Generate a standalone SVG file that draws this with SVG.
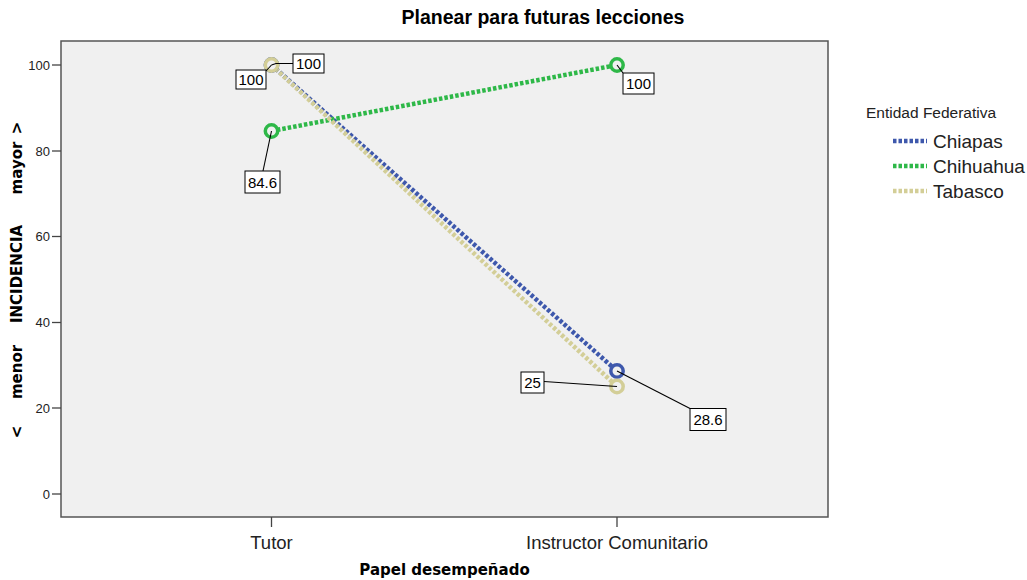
<svg xmlns="http://www.w3.org/2000/svg" width="1027" height="580" viewBox="0 0 1027 580">
<style>
.tick{stroke:#444;stroke-width:1.3}
.ytl{font-family:"Liberation Sans",Arial,sans-serif;font-size:13px;fill:#222;text-anchor:end}
.xtl{font-family:"Liberation Sans",Arial,sans-serif;font-size:18.5px;fill:#222;text-anchor:middle}
.axt{font-family:"DejaVu Sans",Verdana,sans-serif;font-weight:bold;font-size:15px;fill:#000;text-anchor:middle}
.title{font-family:"Liberation Sans",Arial,sans-serif;font-weight:bold;font-size:19.5px;fill:#000;text-anchor:middle}
.leg{font-family:"Liberation Sans",Arial,sans-serif;font-size:19px;fill:#222}
.legh{font-family:"Liberation Sans",Arial,sans-serif;font-size:15.5px;fill:#222}
.ser{fill:none;stroke-width:4.5;stroke-dasharray:3.5 2}
.mk{fill:#f0f0f0;stroke-width:3.5}
.lbox{fill:#fff;stroke:#000;stroke-width:1}
.ltxt{font-family:"Liberation Sans",Arial,sans-serif;font-size:15px;fill:#000;text-anchor:middle}
.lead{fill:none;stroke:#000;stroke-width:1.1}
.chi{stroke:#3E58AC}
.chh{stroke:#2EB848}
.tab{stroke:#D3CE97}
</style>
<rect x="0" y="0" width="1027" height="580" fill="#fff"/>
<text class="title" x="543" y="24">Planear para futuras lecciones</text>
<g id="plot-area">
<rect x="61" y="41" width="767" height="476" fill="#f0f0f0" stroke="#555" stroke-width="1.5"/>
</g>
<g id="y-axis">
<line class="tick" x1="52" y1="65" x2="61" y2="65"/>
<line class="tick" x1="52" y1="151" x2="61" y2="151"/>
<line class="tick" x1="52" y1="236.5" x2="61" y2="236.5"/>
<line class="tick" x1="52" y1="322.5" x2="61" y2="322.5"/>
<line class="tick" x1="52" y1="408" x2="61" y2="408"/>
<line class="tick" x1="52" y1="494" x2="61" y2="494"/>
<text class="ytl" x="50" y="69.5">100</text>
<text class="ytl" x="50" y="155.5">80</text>
<text class="ytl" x="50" y="241">60</text>
<text class="ytl" x="50" y="327">40</text>
<text class="ytl" x="50" y="412.5">20</text>
<text class="ytl" x="50" y="498.5">0</text>
<g transform="rotate(-90)">
<text class="axt" x="-432" y="22">&lt;</text>
<text class="axt" x="-372" y="22">menor</text>
<text class="axt" x="-274" y="22">INCIDENCIA</text>
<text class="axt" x="-168" y="22">mayor</text>
<text class="axt" x="-128" y="22">&gt;</text>
</g>
</g>
<g id="x-axis">
<line class="tick" x1="271.5" y1="517" x2="271.5" y2="527"/>
<line class="tick" x1="617" y1="517" x2="617" y2="527"/>
<text class="xtl" x="271.5" y="549">Tutor</text>
<text class="xtl" x="617" y="549">Instructor Comunitario</text>
<text class="axt" x="444.5" y="575">Papel desempeñado</text>
</g>
<g id="connectors">
<line id="line-chiapas" class="ser chi" x1="271.5" y1="65" x2="617" y2="371"/>
<line id="line-chihuahua" class="ser chh" x1="271.5" y1="131" x2="617" y2="65"/>
<line id="line-tabasco" class="ser tab" x1="271.5" y1="65" x2="617" y2="386.5"/>
</g>
<g id="markers">
<circle id="pt-chiapas-tutor" class="mk chi" cx="271.5" cy="65" r="6.2"/>
<circle id="pt-chiapas-instr" class="mk chi" cx="617" cy="371" r="6.2"/>
<circle id="pt-chihuahua-tutor" class="mk chh" cx="271.5" cy="131" r="6.2"/>
<circle id="pt-chihuahua-instr" class="mk chh" cx="617" cy="65" r="6.2"/>
<circle id="pt-tabasco-tutor" class="mk tab" cx="271.5" cy="65" r="6.2"/>
<circle id="pt-tabasco-instr" class="mk tab" cx="617" cy="386.5" r="6.2"/>
</g>
<g id="label-tab-tutor">
<polyline class="lead" points="271.5,65 266,71"/>
<rect class="lbox" x="236" y="70" width="30" height="19"/>
<text class="ltxt" x="251" y="85">100</text>
</g>
<g id="label-chi-tutor">
<polyline class="lead" points="271.5,65 276,63.5 293,63.5"/>
<rect class="lbox" x="293" y="54" width="31" height="19"/>
<text class="ltxt" x="308.5" y="69">100</text>
</g>
<g id="label-chh-tutor">
<polyline class="lead" points="271.5,131 263,171"/>
<rect class="lbox" x="245" y="171" width="35" height="22"/>
<text class="ltxt" x="262.5" y="187.5">84.6</text>
</g>
<g id="label-chh-instr">
<polyline class="lead" points="617,65 623,73"/>
<rect class="lbox" x="623" y="73" width="31" height="21"/>
<text class="ltxt" x="638.5" y="89">100</text>
</g>
<g id="label-tab-instr">
<polyline class="lead" points="617,386.5 544,381.5"/>
<rect class="lbox" x="521" y="372" width="23" height="21"/>
<text class="ltxt" x="532.5" y="388">25</text>
</g>
<g id="label-chi-instr">
<polyline class="lead" points="617,371 690,408.5"/>
<rect class="lbox" x="690" y="408.5" width="36" height="22"/>
<text class="ltxt" x="708" y="425">28.6</text>
</g>
<g id="legend">
<text class="legh" x="866" y="118">Entidad Federativa</text>
<line class="ser chi" x1="893" y1="141" x2="927" y2="141" stroke-width="4"/>
<text class="leg" x="933" y="148">Chiapas</text>
<line class="ser chh" x1="893" y1="166" x2="927" y2="166" stroke-width="4"/>
<text class="leg" x="933" y="173">Chihuahua</text>
<line class="ser tab" x1="893" y1="191" x2="927" y2="191" stroke-width="4"/>
<text class="leg" x="933" y="198">Tabasco</text>
</g>
</svg>
